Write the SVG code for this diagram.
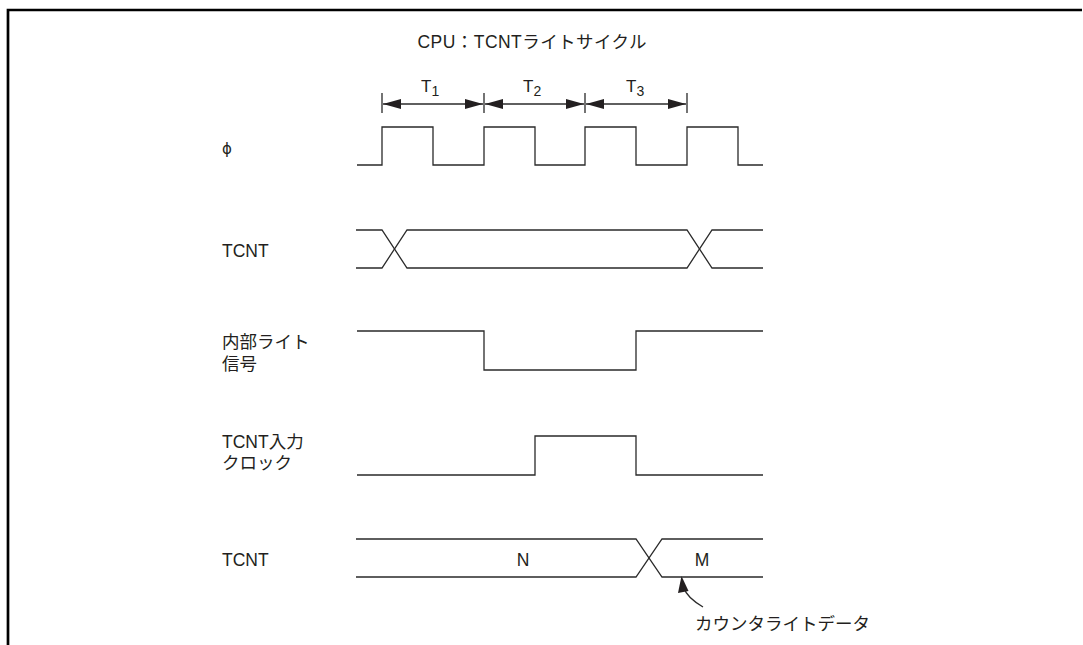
<svg xmlns="http://www.w3.org/2000/svg" width="1083" height="645" viewBox="0 0 1083 645">
<style>
.w{fill:none;stroke:#2a2a2a;stroke-width:1.3;stroke-linejoin:miter}
.t{font-family:"Liberation Sans","Noto Sans CJK JP",sans-serif;font-size:17.5px;fill:#231f20}
.tc{text-anchor:middle}
.ah{fill:#231f20}
.tp{font-size:17px}
.sb{font-size:14px}
</style>
<defs>
<marker id="arr" viewBox="0 0 18 10" refX="18" refY="5" markerWidth="18" markerHeight="10" markerUnits="userSpaceOnUse" orient="auto-start-reverse">
<path d="M0,0 L18,5 L0,10 Z" class="ah"/>
</marker>
</defs>
<rect width="1083" height="645" fill="#fff"/>
<g id="frame"><path d="M8,645 V10 H1082" fill="none" stroke="#000" stroke-width="2.7"/></g>
<g id="title"><text class="t tc" x="532" y="48" textLength="229" lengthAdjust="spacing">CPU：TCNTライトサイクル</text></g>
<g id="periods">
<path class="w" d="M382,93 V113 M484,93 V113 M585,93 V113 M687,93 V113"/>
<text class="t tp" x="421" y="92">T<tspan class="sb" dy="4">1</tspan></text>
<text class="t tp" x="523" y="92">T<tspan class="sb" dy="4">2</tspan></text>
<text class="t tp" x="626" y="92">T<tspan class="sb" dy="4">3</tspan></text>
</g>
<g id="connectors">
<line class="w" x1="383" y1="104" x2="483" y2="104" marker-start="url(#arr)" marker-end="url(#arr)"/>
<line class="w" x1="485" y1="104" x2="584" y2="104" marker-start="url(#arr)" marker-end="url(#arr)"/>
<line class="w" x1="586" y1="104" x2="686" y2="104" marker-start="url(#arr)" marker-end="url(#arr)"/>
<path class="w" d="M703,607 C693,601 686,595 684,588"/>
<path class="ah" d="M681.5,576 L688.5,591 L678,593 Z"/>
</g>
<g id="phi">
<text class="t" x="222" y="154" style="font-family:'DejaVu Sans',sans-serif;font-size:15px">ϕ</text>
<path class="w" d="M357,165 H382 V127 H433 V165 H484 V127 H535 V165 H585 V127 H636 V165 H687 V127 H738 V165 H763"/>
</g>
<g id="tcnt1">
<text class="t" x="222" y="257">TCNT</text>
<path class="w" d="M356,230 H382 L407,268 H687 L712,230 H763"/>
<path class="w" d="M356,268 H382 L407,230 H687 L712,268 H763"/>
</g>
<g id="write">
<text class="t" x="222" y="348">内部ライト</text>
<text class="t" x="222" y="370">信号</text>
<path class="w" d="M357,331 H484 V370 H636 V331 H763"/>
</g>
<g id="clock">
<text class="t" x="222" y="448">TCNT入力</text>
<text class="t" x="222" y="469">クロック</text>
<path class="w" d="M357,475 H535 V436 H636 V475 H763"/>
</g>
<g id="tcnt2">
<text class="t" x="222" y="566">TCNT</text>
<path class="w" d="M356,539 H636 L662,577 H763"/>
<path class="w" d="M356,577 H636 L662,539 H763"/>
<text class="t tc" x="523" y="566">N</text>
<text class="t tc" x="702" y="566">M</text>
</g>
<g id="note"><text class="t" x="695" y="630">カウンタライトデータ</text></g>
</svg>
